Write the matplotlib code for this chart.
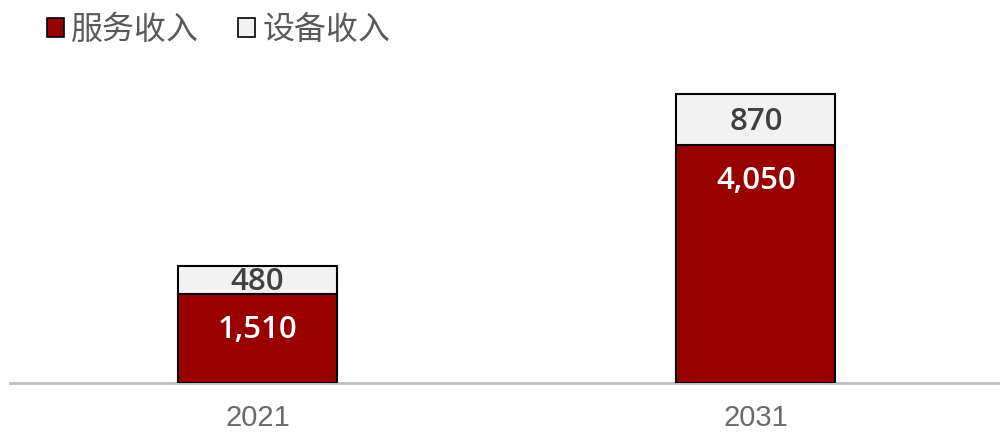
import matplotlib
matplotlib.use("Agg")
import matplotlib.pyplot as plt
from matplotlib.patches import Patch

plt.rcParams['font.family'] = ['Noto Sans CJK SC', 'DejaVu Sans']

years = ['2021', '2031']
service = [1510, 4050]
equipment = [480, 870]
series_names = ['服务收入', '设备收入']

c_service = '#990000'
c_equip = '#F2F2F2'

fig = plt.figure(figsize=(10, 4.32), dpi=100)
ax = fig.add_axes([0.01, 49/432, 0.99, 323/432])

x = list(range(len(years)))
w = 0.319
ax.bar(x, service, width=w, color=c_service, edgecolor='black', linewidth=1.5, zorder=3)
ax.bar(x, equipment, width=w, bottom=service, color=c_equip, edgecolor='black', linewidth=1.5, zorder=3)

lab_font = ['Open Sans', 'DejaVu Sans']
for xi, s, e in zip(x, service, equipment):
    ax.annotate(f'{s:,}', (xi, s), xytext=(0, -36), textcoords='offset pixels',
                ha='center', va='center', color='white', fontsize=22.5, fontweight='semibold',
                family=lab_font)
    ax.annotate(f'{e:,}', (xi, s + e / 2), xytext=(0, -2), textcoords='offset pixels',
                ha='center', va='center', color='#404040',
                fontsize=22.5, fontweight='semibold', family=lab_font)

ax.set_xlim(-0.4965, 1.4895)
ax.set_ylim(0, 5500)
ax.set_xticks(x)
ax.set_xticklabels(years, fontsize=21, color='#6a6a6a', family=['Liberation Sans', 'DejaVu Sans'])
ax.tick_params(axis='x', length=0, pad=15)
ax.set_yticks([])
for sp in ['top', 'right', 'left']:
    ax.spines[sp].set_visible(False)
ax.spines['bottom'].set_color('#BFBFBF')
ax.spines['bottom'].set_linewidth(2)
ax.spines['bottom'].set_zorder(2)

handles = [Patch(facecolor=c_service, edgecolor='black', linewidth=1.2),
           Patch(facecolor=c_equip, edgecolor='black', linewidth=1.2)]
leg = fig.legend(handles, series_names, loc='upper left', bbox_to_anchor=(0.018, 1.035), ncol=2,
                 frameon=False, fontsize=23, handlelength=0.55, handleheight=0.55,
                 handletextpad=0.22, columnspacing=1.2)
for t in leg.get_texts():
    t.set_color('#595959')

fig.savefig('out.png', dpi=100)
